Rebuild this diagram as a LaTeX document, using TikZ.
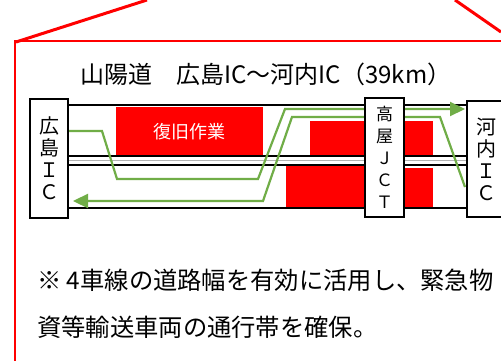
\documentclass[tikz,border=0pt]{standalone}
\usepackage{fontspec}
\setmainfont{Noto Sans CJK JP}
\usetikzlibrary{arrows.meta}
\definecolor{rgreen}{HTML}{70AD47}
\begin{document}
\begin{tikzpicture}[x=1pt,y=-1pt,
  icbox/.style={draw=black,line width=2.5pt,fill=white,inner sep=0pt,align=center},
  band/.style={draw=black,line width=2pt,fill=white},
  work/.style={fill=red,draw=none},
  route/.style={draw=rgreen,line width=2.2pt},
  tipend/.style={-{Triangle[length=15pt,width=14pt]}},
  frame/.style={draw=red,line width=1.6pt},
  callout/.style={draw=red,line width=3pt}
]
\useasboundingbox (0,0) rectangle (501,361);
\fill[white] (0,0) rectangle (501,361);
% callout frame
\draw[frame] (15,361) -- (15,41) -- (501,41);
\draw[callout] (16,42) -- (147,0);
\draw[callout] (455,0) -- (501,32);
% title
\node[font=\fontsize{24}{28}\selectfont] (title) at (266,74) {山陽道　広島IC～河内IC（39km）};
% road bands
\draw[band] (68,105) rectangle (467,156);
\draw[band] (68,165) rectangle (467,208);
\draw[gray!60,line width=1pt] (68,160.5) -- (467,160.5);
% work zones
\fill[work] (116,107) rectangle (263,155);
\node[white,font=\fontsize{18}{20}\selectfont] (work) at (189.5,132) {復旧作業};
\fill[work] (310,121) rectangle (365,155);
\fill[work] (404,121) rectangle (433,155);
\fill[work] (286,166) rectangle (365,207);
\fill[work] (404,168) rectangle (433,207);
% routes
\draw[route,tipend] (68,131) -- (102,131) -- (117,179) -- (258,179) -- (285,109) -- (465,109);
\draw[route,tipend] (465,187) -- (440,117) -- (292,117) -- (263,201) -- (73,201);
% interchange boxes
\node[icbox,minimum width=38pt,minimum height=119pt,font=\fontsize{20}{22}\selectfont] (hiro) at (49,158.5) {広\\島\\Ｉ\\Ｃ};
\node[icbox,minimum width=39pt,minimum height=119pt,font=\fontsize{17}{22}\selectfont] (jct) at (384.5,157.5) {高\\屋\\Ｊ\\Ｃ\\Ｔ};
\node[icbox,minimum width=38pt,minimum height=116pt,font=\fontsize{20}{22}\selectfont] (kawa) at (486,159) {河\\内\\Ｉ\\Ｃ};
% note
\node[anchor=west,inner sep=0pt,font=\fontsize{24.3}{26}\selectfont] (note1) at (37,280) {※ 4車線の道路幅を有効に活用し、緊急物};
\node[anchor=west,inner sep=0pt,font=\fontsize{24.3}{26}\selectfont] (note2) at (37,327) {資等輸送車両の通行帯を確保。};
\end{tikzpicture}
\end{document}
